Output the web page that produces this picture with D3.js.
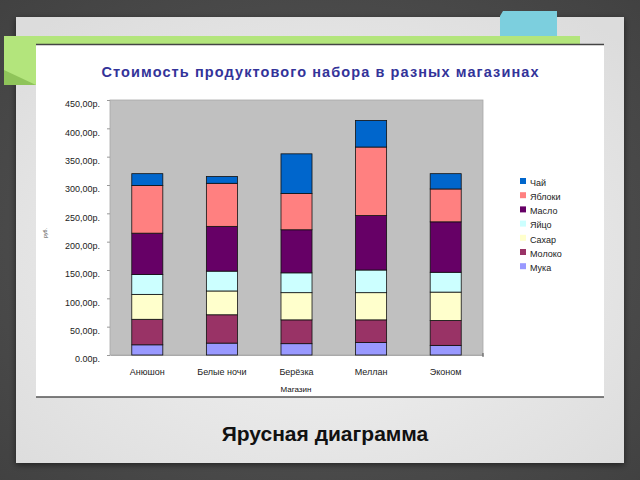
<!DOCTYPE html>
<html>
<head>
<meta charset="utf-8">
<script src="https://cdn.jsdelivr.net/npm/d3@7"></script>
<style>
  html, body { margin: 0; padding: 0; background: #4d4d4d; }
  svg { display: block; font-family: "Liberation Sans", Arial, sans-serif; }
</style>
</head>
<body>
<svg id="chart" width="640" height="480"></svg>
<script>
// shops along the x axis
const shops = ["Анюшон", "Белые ночи", "Берёзка", "Меллан", "Эконом"];
// products, bottom of the stack first
const products = ["Мука", "Молоко", "Сахар", "Яйцо", "Масло", "Яблоки", "Чай"];
const productColors = ["#9999ff", "#993366", "#ffffcc", "#ccffff", "#660066", "#ff8080", "#0066cc"];
// price of each product per shop (руб.)
const muka   = [18, 21, 20, 22, 17];
const moloko = [45, 50, 42, 40, 44];
const sahar  = [44, 42, 48, 48, 50];
const yaitso = [35, 35, 35, 40, 35];
const maslo  = [73, 79, 76, 96, 89];
const yabloki = [84, 76, 64, 121, 58];
const chai   = [21, 12, 70, 47, 27];
const yTicks = [0, 50, 100, 150, 200, 250, 300, 350, 400, 450];

const series = [muka, moloko, sahar, yaitso, maslo, yabloki, chai];
const rows = shops.map((s, i) => {
  const r = { shop: s };
  products.forEach((p, j) => { r[p] = series[j][i]; });
  return r;
});

const svg = d3.select("#chart");

// ---- slide decoration ----
const defs = svg.append("defs");
const grad = defs.append("radialGradient").attr("id", "panelGrad")
  .attr("cx", "50%").attr("cy", "55%").attr("r", "70%");
grad.append("stop").attr("offset", "0%").attr("stop-color", "#f4f4f4");
grad.append("stop").attr("offset", "100%").attr("stop-color", "#dcdcdc");
const bg = defs.append("radialGradient").attr("id", "bgGrad")
  .attr("cx", "50%").attr("cy", "50%").attr("r", "75%");
bg.append("stop").attr("offset", "0%").attr("stop-color", "#5a5a5a");
bg.append("stop").attr("offset", "100%").attr("stop-color", "#404040");
const shadow = defs.append("filter").attr("id", "shadow")
  .attr("x", "-5%").attr("y", "-5%").attr("width", "110%").attr("height", "110%");
shadow.append("feDropShadow").attr("dx", 0).attr("dy", 2).attr("stdDeviation", 3)
  .attr("flood-color", "#000").attr("flood-opacity", 0.5);

svg.append("rect").attr("width", 640).attr("height", 480).attr("fill", "url(#bgGrad)");
svg.append("rect").attr("x", 16).attr("y", 17).attr("width", 608).attr("height", 446)
  .attr("fill", "url(#panelGrad)").attr("filter", "url(#shadow)");

// blue tab
svg.append("path").attr("d", "M500,16 L503,11 L557,11 L557,45 L500,45 Z").attr("fill", "#7ccfde");
// green band
svg.append("path").attr("d", "M4,36 L580,36 L580,45 L36,45 L36,85 L4,85 Z").attr("fill", "#b3e57c");
svg.append("path").attr("d", "M4,70 L36,85 L4,85 Z").attr("fill", "#8fc45a");

// white chart card
svg.append("rect").attr("x", 36).attr("y", 44).attr("width", 568).attr("height", 353)
  .attr("fill", "#ffffff");
svg.append("line").attr("x1", 36).attr("x2", 604).attr("y1", 44.5).attr("y2", 44.5)
  .attr("stroke", "#444").attr("stroke-width", 1.5);
svg.append("line").attr("x1", 36).attr("x2", 604).attr("y1", 397).attr("y2", 397)
  .attr("stroke", "#555").attr("stroke-width", 1.5);

// ---- chart ----
const plot = { left: 110, right: 483, top: 100, bottom: 355 };

const x = d3.scaleBand().domain(shops)
  .range([plot.left, plot.right])
  .paddingInner(0.584).paddingOuter(0.292);
const y = d3.scaleLinear().domain([0, 450]).range([plot.bottom, plot.top]);
const color = d3.scaleOrdinal().domain(products).range(productColors);

svg.append("text").attr("x", 320).attr("y", 77).attr("text-anchor", "middle")
  .attr("font-size", 14.5).attr("font-weight", "bold").attr("fill", "#333399")
  .attr("textLength", 437).attr("lengthAdjust", "spacing")
  .text("Стоимость продуктового набора в разных магазинах");

svg.append("rect").attr("x", plot.left).attr("y", plot.top)
  .attr("width", plot.right - plot.left).attr("height", plot.bottom - plot.top)
  .attr("fill", "#c0c0c0").attr("stroke", "#a8a8a8").attr("stroke-width", 0.8);

// y axis
const yAxis = svg.append("g").attr("transform", `translate(${plot.left},0)`)
  .call(d3.axisLeft(y).tickValues(yTicks).tickSize(3)
    .tickFormat(d => d3.format(".2f")(d).replace(".", ",") + "р."));
yAxis.select(".domain").remove();
yAxis.selectAll(".tick line").attr("stroke", "#999");
yAxis.selectAll(".tick text").attr("x", -10).attr("dy", "0.75em")
  .attr("font-size", 9).attr("fill", "#222")
  .attr("font-family", "Liberation Sans, Arial, sans-serif");
yAxis.selectAll(".tick").filter(d => d === 0).select("text").text("0.00р.");

svg.append("text").attr("transform", "translate(47,233) rotate(-90)")
  .attr("text-anchor", "middle").attr("font-size", 5).attr("fill", "#444").text("руб.");

// x axis
const xAxis = svg.append("g").attr("transform", `translate(0,${plot.bottom})`)
  .call(d3.axisBottom(x).tickSize(0).tickPadding(14));
xAxis.select(".domain").attr("stroke", "#888").attr("stroke-width", 0.6);
xAxis.selectAll(".tick text").attr("font-size", 9).attr("fill", "#222")
  .attr("font-family", "Liberation Sans, Arial, sans-serif");
svg.append("line").attr("x1", plot.right).attr("x2", plot.right)
  .attr("y1", plot.bottom - 2).attr("y2", plot.bottom + 2).attr("stroke", "#555");

svg.append("text").attr("x", 296).attr("y", 392).attr("text-anchor", "middle")
  .attr("font-size", 8).attr("fill", "#111").text("Магазин");

// stacked bars
const stacked = d3.stack().keys(products)(rows);
svg.append("g").selectAll("g").data(stacked).join("g")
  .attr("fill", d => color(d.key))
  .selectAll("rect").data(d => d).join("rect")
  .attr("x", d => x(d.data.shop))
  .attr("width", x.bandwidth())
  .attr("y", d => y(d[1]))
  .attr("height", d => y(d[0]) - y(d[1]))
  .attr("stroke", "#111").attr("stroke-width", 0.8);

// legend, top item is the top of the stack
const legend = svg.append("g").attr("transform", "translate(520,183)");
const items = legend.selectAll("g").data(products.slice().reverse()).join("g")
  .attr("transform", (d, i) => `translate(0,${i * 14.2})`);
items.append("rect").attr("x", 0).attr("y", -5).attr("width", 6).attr("height", 6)
  .attr("fill", d => color(d));
items.append("text").attr("x", 10).attr("y", 0).attr("dy", "0.32em")
  .attr("font-size", 9).attr("fill", "#222").text(d => d);

// slide caption
svg.append("text").attr("x", 325).attr("y", 441).attr("text-anchor", "middle")
  .attr("font-size", 21).attr("font-weight", "bold").attr("fill", "#111")
  .text("Ярусная диаграмма");
</script>
</body>
</html>
